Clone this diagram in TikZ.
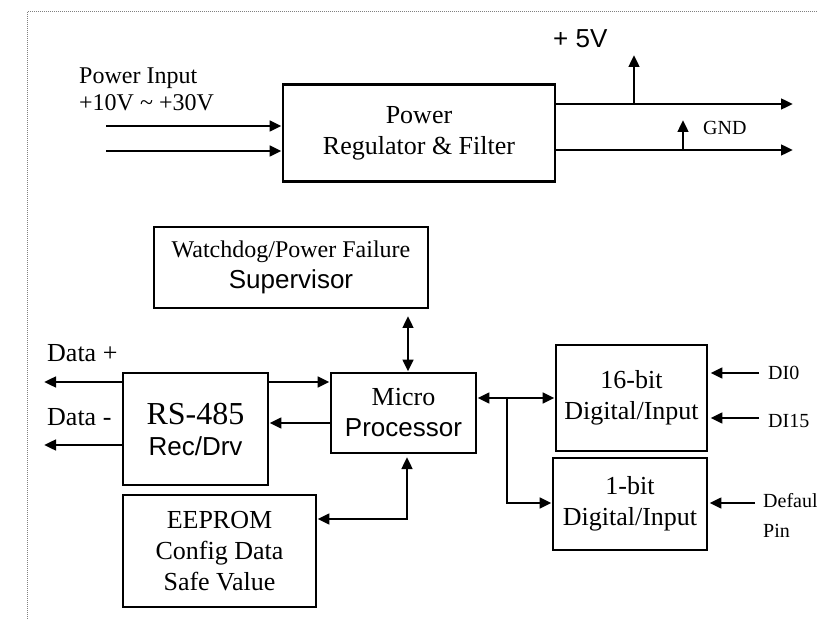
\documentclass[tikz,border=0pt]{standalone}
\usepackage{fontspec}
\setmainfont{Liberation Serif}
\setsansfont{Liberation Sans}
\usetikzlibrary{arrows.meta}
\begin{document}
\begin{tikzpicture}[x=1pt,y=-1pt,
  box/.style={draw,line width=2.9pt,inner sep=0pt,align=center,font=\fontsize{26}{31}\selectfont},
  wire/.style={line width=2.9pt},
  arr/.style={wire,-{Triangle[length=12pt,width=10.5pt]}},
  darr/.style={wire,{Triangle[length=12pt,width=10.5pt]}-{Triangle[length=12pt,width=10.5pt]}},
  lbl/.style={inner sep=0pt,anchor=base west,font=\fontsize{26}{31}\selectfont},
  slbl/.style={lbl,font=\fontsize{20}{24}\selectfont}]
\useasboundingbox (0,0) rectangle (817,620);
\draw[gray,line width=1pt,dash pattern=on 1pt off 1pt] (817,12) -- (27,12) -- (27,620);

% boxes
\node[box,minimum width=272pt,minimum height=97pt] (P) at (419,133) {Power\\Regulator \& Filter};
\node[box,minimum width=274pt,minimum height=81pt] (W) at (291,267.5) {{\fontsize{24}{31}\selectfont Watchdog/Power Failure}\\{\sffamily Supervisor}};
\node[box,minimum width=145pt,minimum height=80pt] (M) at (403.5,413) {Micro\\{\sffamily Processor}};
\node[box,minimum width=145pt,minimum height=112pt] (R) at (195.5,429) {{\fontsize{32}{31}\selectfont RS-485}\\{\sffamily Rec/Drv}};
\node[box,minimum width=193pt,minimum height=112pt] (E) at (219.5,551) {EEPROM\\Config Data\\Safe Value};
\node[box,minimum width=151pt,minimum height=106pt] (D16) at (631.5,398) {16-bit\\Digital/Input};
\node[box,minimum width=154pt,minimum height=92pt] (D1) at (630,504) {1-bit\\Digital/Input};

% power section
\node[lbl,font=\fontsize{24}{27}\selectfont] (pin1) at (79,84) {Power Input};
\node[lbl,font=\fontsize{24}{27}\selectfont] (pin2) at (79,111) {+10V \textasciitilde{} +30V};
\coordinate (i1) at (106,126);
\coordinate (i2) at (106,151);
\draw[arr] (i1) -- (i1 -| P.west);
\draw[arr] (i2) -- (i2 -| P.west);
\coordinate (o1) at (793,104);
\coordinate (o2) at (793,150);
\draw[arr] (P.east |- o1) -- (o1);
\draw[arr] (P.east |- o2) -- (o2);
\coordinate (v5) at (634,55);
\draw[arr] (v5 |- o1) -- (v5);
\coordinate (gn) at (683,120);
\draw[arr] (gn |- o2) -- (gn);
\node[lbl,font=\sffamily\fontsize{26}{31}\selectfont] (l5) at (553,48) {+ 5V};
\node[slbl] (lg) at (703,135) {GND};

% watchdog - micro
\coordinate (wa) at (408,316);
\draw[darr] (wa) -- (wa |- M.north);

% RS-485
\coordinate (d1) at (44,382);
\coordinate (d2) at (44,445);
\draw[arr] (R.west |- d1) -- (d1);
\draw[arr] (R.west |- d2) -- (d2);
\node[lbl] (ld1) at (47,362) {Data +};
\node[lbl] (ld2) at (47,425) {Data -};
\coordinate (rm) at (0,382);
\coordinate (mr) at (0,423);
\draw[arr] (R.east |- rm) -- (M.west |- rm);
\draw[arr] (M.west |- mr) -- (R.east |- mr);

% EEPROM
\coordinate (me) at (407,457);
\coordinate (mec) at (407,519);
\draw[darr] (me) -- (mec) -- (E.east |- mec);

% digital inputs
\coordinate (md) at (0,398);
\draw[darr] (M.east |- md) -- (D16.west |- md);
\coordinate (br) at (507,398);
\coordinate (br2) at (507,503);
\draw[arr] (br) -- (br2) -- (D1.west |- br2);
\coordinate (di0) at (759,373);
\coordinate (di15) at (759,418);
\coordinate (dp) at (755,503);
\draw[arr,shorten >=2pt] (di0) -- (D16.east |- di0);
\draw[arr,shorten >=2pt] (di15) -- (D16.east |- di15);
\draw[arr,shorten >=1pt] (dp) -- (D1.east |- dp);
\node[slbl] (l0) at (768,380) {DI0};
\node[slbl] (l15) at (768,427) {DI15};
\node[slbl] (ldef) at (763,507) {Default};
\node[slbl] (lpin) at (763,537) {Pin};
\end{tikzpicture}
\end{document}
